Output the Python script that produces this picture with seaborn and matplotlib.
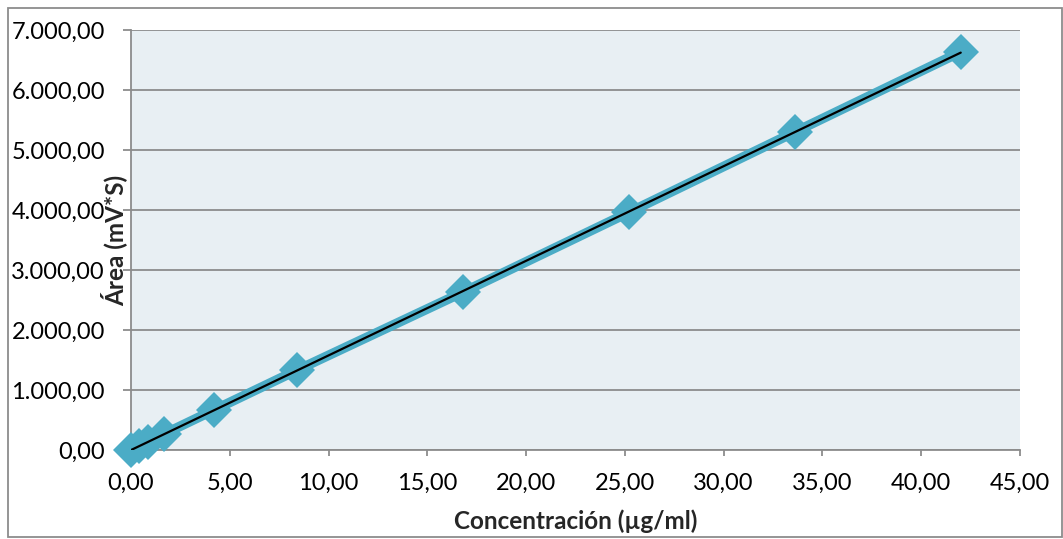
import matplotlib
matplotlib.use("Agg")
import matplotlib.pyplot as plt
import matplotlib.ticker as mticker
from matplotlib.patches import Rectangle
import seaborn as sns
import pandas as pd

concentracion = [0.0, 0.42, 0.84, 1.68, 4.2, 8.4, 16.8, 25.2, 33.6, 42.0]
area = [0.0, 66.0, 133.0, 268.0, 667.0, 1330.0, 2630.0, 3960.0, 5300.0, 6635.0]

df = pd.DataFrame({"x": concentracion, "y": area})

sns.set_theme(style="white")
plt.rcParams["font.family"] = ["Lato", "DejaVu Sans"]

fig = plt.figure(figsize=(10.63, 5.39), dpi=100)
ax = fig.add_axes([131 / 1063, 1 - 450 / 539, (1020 - 131) / 1063, (450 - 30) / 539])
ax.set_facecolor("#E8EFF3")

sns.lineplot(data=df, x="x", y="y", ax=ax, color="#4BACC6", linewidth=7,
             marker="D", markersize=18, markeredgewidth=0, zorder=3, clip_on=False)
sns.regplot(data=df, x="x", y="y", ax=ax, scatter=False, ci=None, truncate=True,
            line_kws={"color": "black", "linewidth": 1.6, "zorder": 4})

ax.set_xlim(0, 45)
ax.set_ylim(0, 7000)
ax.set_xticks([0, 5, 10, 15, 20, 25, 30, 35, 40, 45])
ax.set_yticks([0, 1000, 2000, 3000, 4000, 5000, 6000, 7000])

def eu_fmt(v, pos):
    s = f"{v:,.2f}"
    return s.replace(",", "X").replace(".", ",").replace("X", ".")

ax.xaxis.set_major_formatter(mticker.FuncFormatter(eu_fmt))
ax.yaxis.set_major_formatter(mticker.FuncFormatter(eu_fmt))

ax.yaxis.grid(True, color="#8C8C8C", linewidth=1.3)
ax.set_axisbelow(True)
for s in ["top", "right"]:
    ax.spines[s].set_visible(False)
for s in ["left", "bottom"]:
    ax.spines[s].set_color("#8C8C8C")
    ax.spines[s].set_linewidth(1.3)

ax.tick_params(axis="both", which="major", labelsize=17, width=1.3,
               color="#8C8C8C", direction="out", labelcolor="black")
ax.tick_params(axis="x", length=4.5, pad=12)
ax.tick_params(axis="y", length=5.8, pad=13)
ax.xaxis.set_ticks_position("bottom")
ax.yaxis.set_ticks_position("left")

ax.set_xlabel("Concentración (µg/ml)", fontsize=17.5, fontweight="bold", labelpad=11)
ax.set_ylabel("Área (mV*S)", fontsize=17.5, fontweight="bold")
ax.yaxis.set_label_coords(-0.004, 0.5)

fig.patches.append(Rectangle((8 / 1063, 2 / 539), 1 - 8 / 1063 - 1 / 1063, 1 - 10 / 539,
                             transform=fig.transFigure, fill=False,
                             edgecolor="#8C8C8C", linewidth=1.3, zorder=0))

fig.savefig("out.png", dpi=100)
